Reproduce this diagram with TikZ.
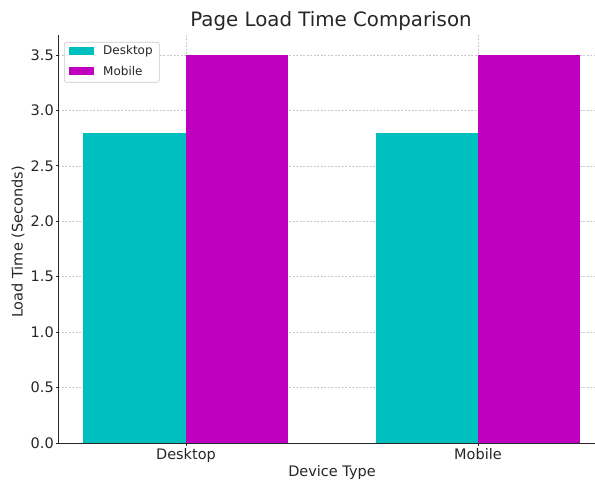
\documentclass[tikz,border=0pt]{standalone}
\usepackage{fontspec}
\setmainfont{DejaVu Sans}
\usepackage{xcolor}
\definecolor{DeskTeal}{HTML}{00BFBF}
\definecolor{MobMagenta}{HTML}{BF00BF}
\definecolor{GridGray}{HTML}{C8C8C8}
\definecolor{InkGray}{HTML}{262626}
\usepackage{tikz}
\usetikzlibrary{positioning}

\begin{document}
\begin{tikzpicture}[
  x=1pt, y=1pt,
  gridline/.style={
    draw=GridGray,
    dashed,
    dash pattern=on 2pt off 1.5pt,
    line width=0.5pt},
  spine/.style={
    draw=InkGray,
    line width=1pt},
  ticklabel/.style={
    text=InkGray,
    font=\fontsize{14.5}{16}\selectfont,
    inner sep=1pt},
  axislabel/.style={
    text=InkGray,
    font=\fontsize{14.5}{16}\selectfont},
  legendtext/.style={
    text=InkGray,
    font=\fontsize{12}{14}\selectfont,
    inner sep=1pt,
    anchor=west},
]

\useasboundingbox (0,0) rectangle (595,483);

% data area: value v sits at 40 + v*110.86
\begin{scope}[shift={(0,40)}, y=110.86pt]
  % grid
  \foreach \v in {0.5,1.0,...,3.5}
    \draw[gridline] (58,\v) -- (595,\v);
  \foreach \gx in {186,478}
    \draw[gridline] (\gx,0) -- (\gx,3.68);

  % bars
  \fill[DeskTeal]   (83,0)  rectangle (186,2.8);
  \fill[MobMagenta] (186,0) rectangle (288,3.5);
  \fill[DeskTeal]   (376,0) rectangle (478,2.8);
  \fill[MobMagenta] (478,0) rectangle (580,3.5);

  % spines
  \draw[spine] (58.5,3.68) -- (58.5,0) -- (595,0);

  % y ticks
  \foreach \v in {0.0,0.5,1.0,1.5,2.0,2.5,3.0,3.5} {
    \draw[spine, line width=0.8pt] (58.5,\v) -- ++(-3,0);
    \node[ticklabel, anchor=east] at (55,\v) {\v};
  }

  % x ticks
  \foreach \gx/\name in {186/Desktop,478/Mobile} {
    \draw[spine, line width=0.8pt] (\gx,0) -- ++(0,-3pt);
    \node[ticklabel, anchor=north] (tick\name) at (\gx,-4pt) {\name};
  }
\end{scope}

% title and axis labels
\node[text=InkGray, font=\fontsize{19.8}{22}\selectfont] (title) at (331,462)
  {Page Load Time Comparison};
\node[axislabel] (xlabel) at (332,11) {Device Type};
\node[axislabel, rotate=90] (ylabel) at (18,241) {Load Time (Seconds)};

% legend
\node[draw=GridGray, fill=white, rounded corners=2pt, line width=0.6pt,
      minimum width=95pt, minimum height=40pt, anchor=north west]
  (legendbox) at (64,441) {};
\fill[DeskTeal]   (69,428) rectangle (94,436);
\fill[MobMagenta] (69,408) rectangle (94,416);
\node[legendtext] (legDesk) at (102,432) {Desktop};
\node[legendtext] (legMob)  at (102,412) {Mobile};

\end{tikzpicture}
\end{document}
